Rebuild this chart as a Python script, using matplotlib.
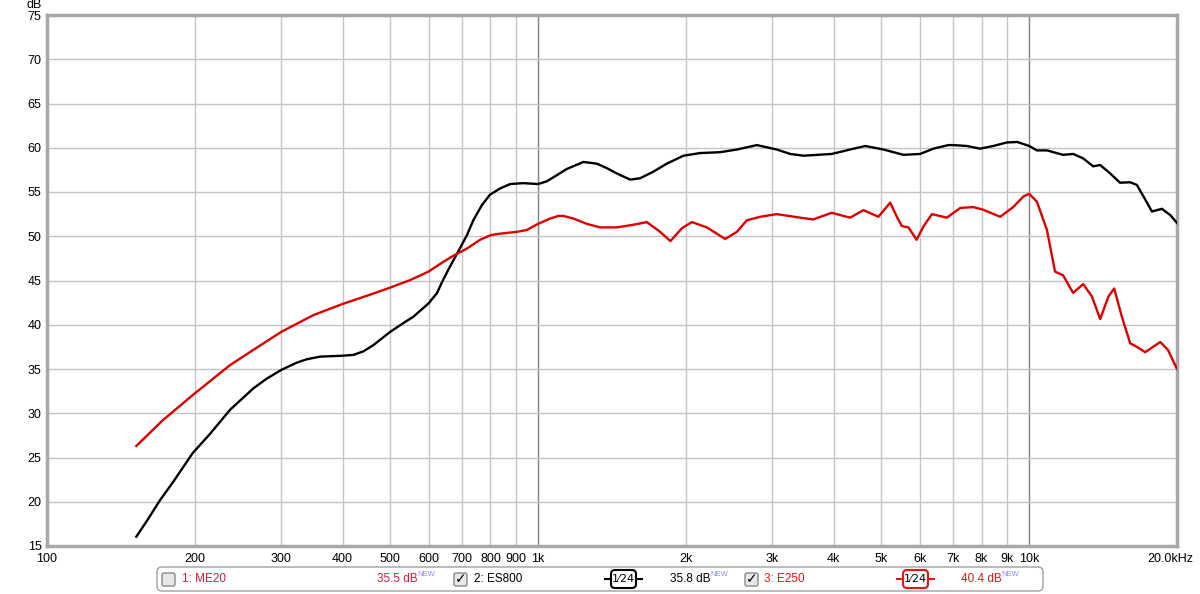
import numpy as np
import matplotlib.pyplot as plt
from matplotlib.patches import FancyBboxPatch
from matplotlib.lines import Line2D
from matplotlib.transforms import IdentityTransform, ScaledTranslation

plt.rcParams['font.family'] = ['Liberation Sans', 'DejaVu Sans']

# ES800 (black)
es800_freq = [152, 160, 170, 181, 198, 215, 236, 263, 280, 300, 322, 338, 360, 400, 421, 441, 462, 500, 532, 557,
              598, 622, 641, 662, 688, 716, 738, 768, 798, 837, 877, 933, 1000, 1041, 1092, 1144, 1237, 1317,
              1380, 1446, 1540, 1613, 1717, 1828, 1977, 2138, 2348, 2540, 2789, 3062, 3261, 3470, 3963, 4319,
              4634, 5050, 5546, 5998, 6383, 6847, 7010, 7465, 7945, 8456, 9005, 9460, 10000, 10370, 10870,
              11720, 12290, 12880, 13500, 13950, 14620, 15310, 16060, 16570, 17090, 17780, 18630, 19370, 20000]
es800_db = [16.05, 17.9, 20.2, 22.3, 25.5, 27.7, 30.4, 32.8, 33.9, 34.9, 35.7, 36.1, 36.4, 36.5, 36.6, 37.0, 37.7, 39.2, 40.2, 40.9,
            42.4, 43.55, 45.1, 46.6, 48.3, 50.1, 51.8, 53.5, 54.7, 55.4, 55.9, 56.0, 55.9, 56.2, 56.9, 57.6, 58.4, 58.2,
            57.7, 57.1, 56.4, 56.55, 57.3, 58.2, 59.1, 59.4, 59.5, 59.8, 60.3, 59.8, 59.3, 59.1, 59.3, 59.8,
            60.2, 59.8, 59.2, 59.3, 59.9, 60.3, 60.3, 60.2, 59.9, 60.2, 60.6, 60.65, 60.2, 59.7, 59.7,
            59.2, 59.3, 58.8, 57.9, 58.05, 57.1, 56.05, 56.1, 55.8, 54.5, 52.8, 53.1, 52.4, 51.5]

# E250 (red)
e250_freq = [152, 172, 200, 236, 263, 300, 349, 400, 455, 500, 549, 598, 641, 677, 716, 762, 798, 824, 905, 948, 1000,
             1058, 1100, 1126, 1180, 1257, 1337, 1446, 1564, 1665, 1772, 1860, 1962, 2056, 2206, 2404, 2540, 2661,
             2833, 3062, 3417, 3632, 3963, 4319, 4598, 4932, 5212, 5377, 5505, 5677, 5900, 6090, 6340, 6800,
             7240, 7690, 8060, 8730, 9280, 9736, 10000, 10370, 10870, 11290, 11720, 12290, 12880, 13420, 13950,
             14505, 14900, 15445, 16060, 16570, 17230, 18490, 19170, 20000]
e250_db = [26.3, 29.2, 32.25, 35.45, 37.15, 39.2, 41.1, 42.35, 43.4, 44.2, 45.05, 46.0, 47.1, 47.9, 48.6, 49.6, 50.1, 50.25, 50.5, 50.7, 51.4,
           52.0, 52.3, 52.3, 52.0, 51.4, 51.0, 51.0, 51.3, 51.6, 50.5, 49.45, 50.9, 51.6, 51.0, 49.7, 50.5, 51.8,
           52.2, 52.5, 52.1, 51.9, 52.65, 52.1, 52.95, 52.2, 53.8, 52.2, 51.15, 51.0, 49.6, 51.1, 52.5, 52.1,
           53.2, 53.3, 53.0, 52.2, 53.3, 54.5, 54.8, 53.9, 50.7, 46.0, 45.6, 43.6, 44.6, 43.2, 40.65,
           43.2, 44.1, 40.9, 37.9, 37.5, 36.9, 38.05, 37.15, 35.0]

x_ticks = [100, 200, 300, 400, 500, 600, 700, 800, 900, 1000, 2000, 3000, 4000, 5000, 6000, 7000, 8000, 9000, 10000, 20000]
x_labels = ['100', '200', '300', '400', '500', '600', '700', '800', '900', '1k', '2k', '3k', '4k', '5k', '6k', '7k', '8k', '9k', '10k', '20.0kHz']
y_ticks = list(range(15, 80, 5))

W, H = 1200, 594
fig = plt.figure(figsize=(W / 100, H / 100), dpi=100)
ax = fig.add_axes([47 / W, 1 - 546 / H, 1130 / W, 531 / H])
ax.set_xscale('log')
ax.set_xlim(100, 20000)
ax.set_ylim(15, 75)

for f in x_ticks[1:-1]:
    c = '#808080' if f in (1000, 10000) else '#c4c4c4'
    ax.axvline(f, color=c, lw=1, zorder=1)
for y in y_ticks[1:-1]:
    ax.axhline(y, color='#c4c4c4', lw=1, zorder=1)

ax.plot(es800_freq, es800_db, color='black', lw=1.7, zorder=3, solid_joinstyle='round')
ax.plot(e250_freq, e250_db, color='#e00000', lw=1.7, zorder=3, solid_joinstyle='round')

ax.set_xticks(x_ticks)
ax.set_xticklabels(x_labels)
ax.xaxis.set_minor_locator(plt.NullLocator())
ax.set_yticks(y_ticks)
ax.tick_params(length=0, labelsize=9, colors='black')
ax.tick_params(axis='x', pad=5)
ax.tick_params(axis='y', pad=4)
last = ax.get_xticklabels()[-1]
last.set_transform(last.get_transform() + ScaledTranslation(-0.07, 0, fig.dpi_scale_trans))
for s in ax.spines.values():
    s.set_color('#a8a8a8')
    s.set_linewidth(2.5)

fig.text(42 / W, 1 - 5 / H, 'dB', ha='right', va='center', fontsize=9)

# legend panel (pixel coords, origin top-left)
def P(x, y):
    return x, H - y

idt = IdentityTransform()
box = FancyBboxPatch(P(157, 591), 886, 24, boxstyle='round,pad=0,rounding_size=5',
                     transform=idt, fc='white', ec='#a0a0a0', lw=1)
fig.patches.append(box)

def checkbox(x, checked):
    cb = FancyBboxPatch(P(x, 586), 13, 13, boxstyle='round,pad=0,rounding_size=2',
                        transform=idt, fc='#e8e8e8', ec='#888888', lw=1)
    fig.patches.append(cb)
    if checked:
        fig.text((x + 7) / W, 1 - 579 / H, '\u2713', ha='center', va='center',
                 fontsize=10, family='DejaVu Sans', fontweight='bold')

def txt(x, s, color, size=8.5):
    fig.text(x / W, 1 - 579 / H, s, ha='left', va='center', fontsize=size, color=color)

def new(x):
    fig.text(x / W, 1 - 575 / H, 'NEW', ha='left', va='center', fontsize=5.5, color='#8888ff')

def smooth_sym(x0, color):
    for a, b in ((x0, x0 + 6), (x0 + 31, x0 + 37)):
        fig.lines.append(Line2D([a, b], [H - 579, H - 579], transform=idt, color=color, lw=1.5))
    sb = FancyBboxPatch(P(x0 + 6, 588), 25, 18, boxstyle='round,pad=0,rounding_size=4',
                        transform=idt, fc='white', ec=color, lw=1.5)
    fig.patches.append(sb)
    fig.text((x0 + 18.5) / W, 1 - 579 / H, '1\u204424', ha='center', va='center', fontsize=8,
             color='black', family='DejaVu Sans')

red1 = '#e0143c'
red3 = '#e81414'
checkbox(162, False)
txt(182, '1: ME20', red1)
txt(377, '35.5 dB', red1)
new(417)
checkbox(454, True)
txt(474, '2: ES800', 'black')
smooth_sym(605, 'black')
txt(670, '35.8 dB', 'black')
new(710)
checkbox(745, True)
txt(764, '3: E250', red3)
smooth_sym(897, red3)
txt(961, '40.4 dB', red3)
new(1001)

fig.savefig('out.png', dpi=100)
